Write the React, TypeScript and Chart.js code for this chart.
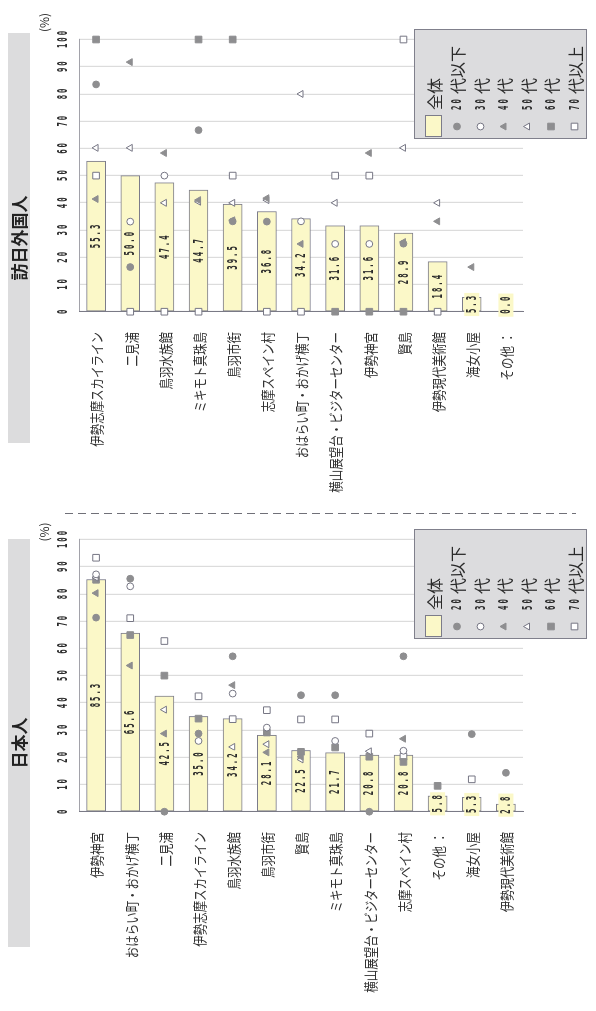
import React, { useEffect, useRef } from "react";
import { Chart, registerables } from "chart.js";
Chart.register(...registerables);

// ---------- data ----------
const ageLabels = ["20代以下", "30代", "40代", "50代", "60代", "70代以上"];
const axisTicks = [0, 10, 20, 30, 40, 50, 60, 70, 80, 90, 100];

const jpCategories = [
  "伊勢神宮", "おはらい町・おかげ横丁", "二見浦", "伊勢志摩スカイライン", "鳥羽水族館", "鳥羽市街",
  "賢島", "ミキモト真珠島", "横山展望台・ビジターセンター", "志摩スペイン村", "その他 ：", "海女小屋", "伊勢現代美術館",
];
const jpTotal = [85.3, 65.6, 42.5, 35.0, 34.2, 28.1, 22.5, 21.7, 20.8, 20.8, 5.8, 5.3, 2.8];
const jpAge20 = [71.3, 85.6, 0, 28.7, 57.1, null, 42.8, 42.8, 0, 57.1, null, 28.5, 14.3];
const jpAge30 = [87.2, 82.8, null, 26.0, 43.4, 30.9, null, 26.0, null, 22.4, null, null, null];
const jpAge40 = [80.3, 53.7, 28.7, null, 46.5, 21.8, 20.2, null, null, 26.8, null, null, 4.5];
const jpAge50 = [86.0, null, 37.5, null, 23.8, 24.8, 19.2, null, 22.2, null, null, null, null];
const jpAge60 = [85.2, 64.9, 50.0, 34.2, null, 29.1, 22.0, 23.6, 20.2, 18.3, 9.5, null, null];
const jpAge70 = [93.3, 71.1, 62.7, 42.4, 34.0, 37.3, 33.9, 33.9, 28.7, 20.2, null, 11.9, null];

const fgCategories = [
  "伊勢志摩スカイライン", "二見浦", "鳥羽水族館", "ミキモト真珠島", "鳥羽市街", "志摩スペイン村",
  "おはらい町・おかげ横丁", "横山展望台・ビジターセンター", "伊勢神宮", "賢島", "伊勢現代美術館", "海女小屋", "その他 ：",
];
const fgTotal = [55.3, 50.0, 47.4, 44.7, 39.5, 36.8, 34.2, 31.6, 31.6, 28.9, 18.4, 5.3, 0.0];
const fgAge20 = [83.5, 16.4, null, 66.7, 33.2, 33.1, null, null, null, 25.0, null, null, null];
const fgAge30 = [null, 33.1, 50.0, null, null, null, 33.2, 24.9, 24.9, null, null, null, null];
const fgAge40 = [41.4, 91.7, 58.3, 41.0, 33.6, 41.7, 24.9, null, 58.3, 25.6, 33.2, 16.4, null];
const fgAge50 = [60.2, 60.2, 40.0, 40.4, 40.0, 41.0, 80.0, 40.0, null, 60.2, 40.0, null, null];
const fgAge60 = [100, null, null, 100, 100, null, null, 0, 0, 0, null, null, null];
const fgAge70 = [50.0, 0, 0, 0, 50.0, 0, 0, 50.0, 50.0, 100, 0, null, null];

// ---------- styles ----------
const BAR_FILL = "#fbf8c8";
const BAR_EDGE = "#7c7c8a";
const MARK_GRAY = "#8e8e90";
const MARK_EDGE = "#767684";
const TEXT = "#2a2a2a";
const styles = ["circle", "circle", "triangle", "triangle", "rect", "rect"];
const filled = [true, false, true, false, true, false];
const radii = [3.4, 3.4, 4, 4, 4.7, 4.7];

const DIGIT_FONT = "bold 14px 'DejaVu Sans Mono'";
const DIGIT_SX = 0.52;
const DIGIT_SP = 2.0;

function measureSpaced(ctx: CanvasRenderingContext2D, text: string) {
  ctx.save();
  ctx.font = DIGIT_FONT;
  const ws = [...text].map((c) => ctx.measureText(c).width * DIGIT_SX);
  ctx.restore();
  return { ws, total: ws.reduce((a, b) => a + b, 0) + DIGIT_SP * (ws.length - 1) };
}

function drawSpaced(ctx: CanvasRenderingContext2D, text: string, x: number, y: number, align: string) {
  const { ws, total } = measureSpaced(ctx, text);
  let cx = align === "center" ? x - total / 2 : align === "right" ? x - total : x;
  ctx.save();
  ctx.font = DIGIT_FONT;
  ctx.textBaseline = "middle";
  ctx.textAlign = "left";
  ctx.fillStyle = TEXT;
  [...text].forEach((c, i) => {
    ctx.save();
    ctx.translate(cx, y);
    ctx.scale(DIGIT_SX, 1);
    ctx.fillText(c, 0, 0);
    ctx.restore();
    cx += ws[i] + DIGIT_SP;
  });
  ctx.restore();
  return total;
}

function drawPointShape(ctx: CanvasRenderingContext2D, style: string, r: number, x: number, y: number) {
  ctx.beginPath();
  if (style === "circle") {
    ctx.arc(x, y, r, 0, Math.PI * 2);
  } else if (style === "triangle") {
    for (let j = 0; j < 3; j++) {
      const a = (j * 2 * Math.PI) / 3;
      const px = x + Math.sin(a) * r;
      const py = y - Math.cos(a) * r;
      if (j === 0) ctx.moveTo(px, py);
      else ctx.lineTo(px, py);
    }
    ctx.closePath();
  } else {
    const s = Math.SQRT1_2 * r;
    ctx.rect(x - s, y - s, 2 * s, 2 * s);
  }
  ctx.fill();
  ctx.stroke();
}

function drawMarker(ctx: CanvasRenderingContext2D, k: number, x: number, y: number) {
  ctx.save();
  ctx.fillStyle = filled[k] ? MARK_GRAY : "#ffffff";
  ctx.strokeStyle = filled[k] ? MARK_GRAY : MARK_EDGE;
  ctx.lineWidth = 1;
  drawPointShape(ctx, styles[k], radii[k], x, y);
  ctx.restore();
}

type PanelCfg = {
  title: string;
  titleX0: number;
  titleX1: number;
  pctX: number;
  dashed: boolean;
};

function makeOverlay(cfg: PanelCfg) {
  return {
    id: "overlay",
    afterDatasetsDraw(chart: any) {
      const ctx: CanvasRenderingContext2D = chart.ctx;
      const xs = chart.scales.x;
      const ys = chart.scales.y;
      const zero = xs.getPixelForValue(0);
      const vals: number[] = chart.data.datasets[0].data;
      vals.forEach((v, i) => {
        const txt = v.toFixed(1);
        const { total } = measureSpaced(ctx, txt);
        const bw = total + 6;
        const y = ys.getPixelForValue(i);
        let cx = xs.getPixelForValue(v / 2);
        cx = Math.max(cx, zero - 5 + bw / 2);
        ctx.save();
        ctx.fillStyle = BAR_FILL;
        ctx.fillRect(cx - bw / 2, y - 7.5, bw, 15);
        ctx.restore();
        drawSpaced(ctx, txt, cx, y + 0.5, "center");
      });
    },
    afterDraw(chart: any) {
      const ctx: CanvasRenderingContext2D = chart.ctx;
      const xs = chart.scales.x;
      const ys = chart.scales.y;
      // tick labels (top)
      axisTicks.forEach((t) => drawSpaced(ctx, String(t), xs.getPixelForValue(t), 63, "center"));
      // (%)
      ctx.save();
      ctx.font = "12px 'Noto Sans CJK JP'";
      ctx.fillStyle = TEXT;
      ctx.textAlign = "center";
      ctx.textBaseline = "middle";
      ctx.fillText("(%)", cfg.pctX, 44);
      ctx.restore();
      // category labels
      const labels: string[] = chart.data.labels;
      labels.forEach((lab, i) => {
        const y = ys.getPixelForValue(i);
        ctx.save();
        ctx.font = "14px 'Noto Sans CJK JP'";
        ctx.fillStyle = "#333333";
        ctx.textAlign = "right";
        ctx.textBaseline = "middle";
        ctx.translate(179, y + 1);
        ctx.scale(0.82, 1);
        ctx.fillText(lab, 0, 0);
        ctx.restore();
      });
      // title bar
      ctx.save();
      ctx.fillStyle = "#dcdcdd";
      ctx.fillRect(cfg.titleX0, 8, cfg.titleX1 - cfg.titleX0, 22);
      ctx.font = "bold 17px 'Noto Sans CJK JP'";
      ctx.fillStyle = "#222222";
      ctx.textAlign = "center";
      ctx.textBaseline = "middle";
      ctx.fillText(cfg.title, (cfg.titleX0 + cfg.titleX1) / 2, 19.5);
      ctx.restore();
      // dashed separator
      if (cfg.dashed) {
        ctx.save();
        ctx.strokeStyle = "#707078";
        ctx.lineWidth = 1;
        ctx.setLineDash([8, 5]);
        ctx.beginPath();
        ctx.moveTo(497.5, 65);
        ctx.lineTo(497.5, 576);
        ctx.stroke();
        ctx.restore();
      }
      // legend
      const L0 = 372, L1 = 482, T0 = 414, T1 = 587;
      ctx.save();
      ctx.fillStyle = "#dcdcde";
      ctx.fillRect(L0, T0, L1 - L0, T1 - T0);
      ctx.strokeStyle = "#80808c";
      ctx.lineWidth = 1;
      ctx.strokeRect(L0 + 0.5, T0 + 0.5, L1 - L0 - 1, T1 - T0 - 1);
      ctx.restore();
      const rows = [433.5, 457, 480.5, 504, 527.5, 551, 574.5];
      ctx.save();
      ctx.fillStyle = BAR_FILL;
      ctx.strokeStyle = BAR_EDGE;
      ctx.fillRect(374, rows[0] - 8.5, 22, 17);
      ctx.strokeRect(374.5, rows[0] - 8, 21, 16);
      ctx.font = "16px 'Noto Sans CJK JP'";
      ctx.fillStyle = TEXT;
      ctx.textBaseline = "middle";
      ctx.textAlign = "left";
      ctx.fillText("全体", 401, rows[0] + 1);
      ctx.restore();
      ageLabels.forEach((lab, k) => {
        const y = rows[k + 1];
        drawMarker(ctx, k, 384.5, y);
        const m = lab.match(/^(\d+)(.*)$/);
        const num = m ? m[1] : "";
        const rest = m ? m[2] : lab;
        drawSpaced(ctx, num, 401, y + 0.5, "left");
        ctx.save();
        ctx.font = "16px 'Noto Sans CJK JP'";
        ctx.fillStyle = TEXT;
        ctx.textBaseline = "middle";
        ctx.textAlign = "left";
        ctx.fillText(rest, 417, y + 1);
        ctx.restore();
      });
    },
  };
}

function buildChart(canvas: HTMLCanvasElement, cats: string[], total: number[], ages: (number | null)[][], cfg: PanelCfg) {
  return new Chart(canvas, {
    type: "bar",
    data: {
      labels: cats,
      datasets: [
        {
          type: "bar",
          label: "全体",
          data: total,
          backgroundColor: BAR_FILL,
          borderColor: BAR_EDGE,
          borderWidth: 1,
          borderSkipped: false,
          barThickness: 19,
          order: 10,
          indexAxis: "y",
        } as any,
        ...ages.map((vals, k) => ({
          type: "line",
          label: ageLabels[k],
          data: vals,
          showLine: false,
          indexAxis: "y",
          pointStyle: styles[k],
          pointRadius: radii[k],
          pointHoverRadius: radii[k],
          pointBackgroundColor: filled[k] ? MARK_GRAY : "#ffffff",
          pointBorderColor: filled[k] ? MARK_GRAY : MARK_EDGE,
          pointBorderWidth: 1,
          clip: false,
          order: k,
        })) as any,
      ],
    },
    options: {
      indexAxis: "y",
      responsive: false,
      animation: false,
      devicePixelRatio: 1,
      events: [],
      layout: { padding: { left: 0, right: 28.5, top: 0, bottom: 73 } },
      plugins: { legend: { display: false }, tooltip: { enabled: false } },
      scales: {
        x: {
          type: "linear",
          position: "top",
          min: 0,
          max: 100,
          ticks: { display: false, stepSize: 10 },
          grid: { color: "#dcdcdc", drawTicks: false, lineWidth: 1.2 },
          border: { display: true, color: "#a2a2aa" },
          afterFit: (s: any) => {
            s.height = 79;
          },
        },
        y: {
          type: "category",
          position: "left",
          ticks: { display: false },
          grid: { display: false, drawTicks: false },
          border: { display: true, color: "#7a7a86" },
          afterFit: (s: any) => {
            s.width = 199.3;
          },
        },
      },
    } as any,
    plugins: [makeOverlay(cfg)],
  });
}

export default function App() {
  const jpRef = useRef<HTMLCanvasElement>(null);
  const fgRef = useRef<HTMLCanvasElement>(null);

  useEffect(() => {
    const c1 = buildChart(
      jpRef.current!,
      jpCategories,
      jpTotal,
      [jpAge20, jpAge30, jpAge40, jpAge50, jpAge60, jpAge70],
      { title: "日本人", titleX0: 64, titleX1: 472, pctX: 479, dashed: true }
    );
    const c2 = buildChart(
      fgRef.current!,
      fgCategories,
      fgTotal,
      [fgAge20, fgAge30, fgAge40, fgAge50, fgAge60, fgAge70],
      { title: "訪日外国人", titleX0: 68, titleX1: 478, pctX: 488.5, dashed: false }
    );
    return () => {
      c1.destroy();
      c2.destroy();
    };
  }, []);

  return (
    <div style={{ position: "fixed", left: 0, top: 0, width: 596, height: 1011, overflow: "hidden", background: "#fff" }}>
      <div
        style={{
          position: "absolute",
          left: 0,
          top: 0,
          width: 1011,
          height: 596,
          transformOrigin: "0 0",
          transform: "translateY(1011px) rotate(-90deg)",
        }}
      >
        <canvas ref={jpRef} width={500} height={596} style={{ position: "absolute", left: 0, top: 0, width: 500, height: 596 }} />
        <canvas ref={fgRef} width={500} height={596} style={{ position: "absolute", left: 500, top: 0, width: 500, height: 596 }} />
      </div>
    </div>
  );
}
